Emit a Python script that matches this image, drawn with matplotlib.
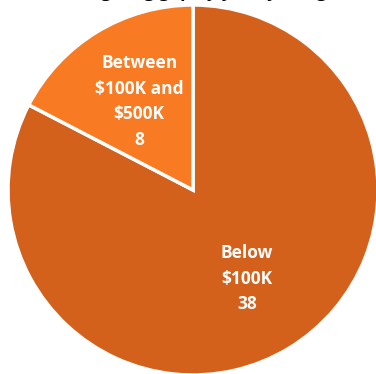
import matplotlib
matplotlib.use("Agg")
import matplotlib.pyplot as plt

categories = ["Below\n$100K", "Between\n$100K and\n$500K"]
counts = [38, 8]
colors = ["#D3611B", "#F87B23"]
title = "Annual giving gap by yearly budget"

plt.rcParams["font.family"] = ["Open Sans", "DejaVu Sans"]

W, H = 376, 374
fig = plt.figure(figsize=(W / 100, H / 100), dpi=100)
fig.patch.set_facecolor("white")
ax = fig.add_axes([0, 0, 1, 1])

labels = [f"{c}\n{v}" for c, v in zip(categories, counts)]
wedges, texts = ax.pie(
    counts,
    labels=labels,
    colors=colors,
    startangle=90,
    counterclock=False,
    center=(193, H - 190),
    radius=185,
    labeldistance=0.56,
    wedgeprops=dict(edgecolor="white", linewidth=2.5),
    textprops=dict(color="white", fontsize=12.5, fontweight="bold",
                   ha="center", va="center", linespacing=1.55),
    frame=True,
)
ax.set_xlim(0, W)
ax.set_ylim(0, H)
ax.set_aspect("equal")
ax.axis("off")

fig.text(0.5, 1 + 3.3 / H, title, ha="center", va="baseline",
         fontsize=13, fontweight="bold", color="black")

fig.savefig("out.png", dpi=100)
